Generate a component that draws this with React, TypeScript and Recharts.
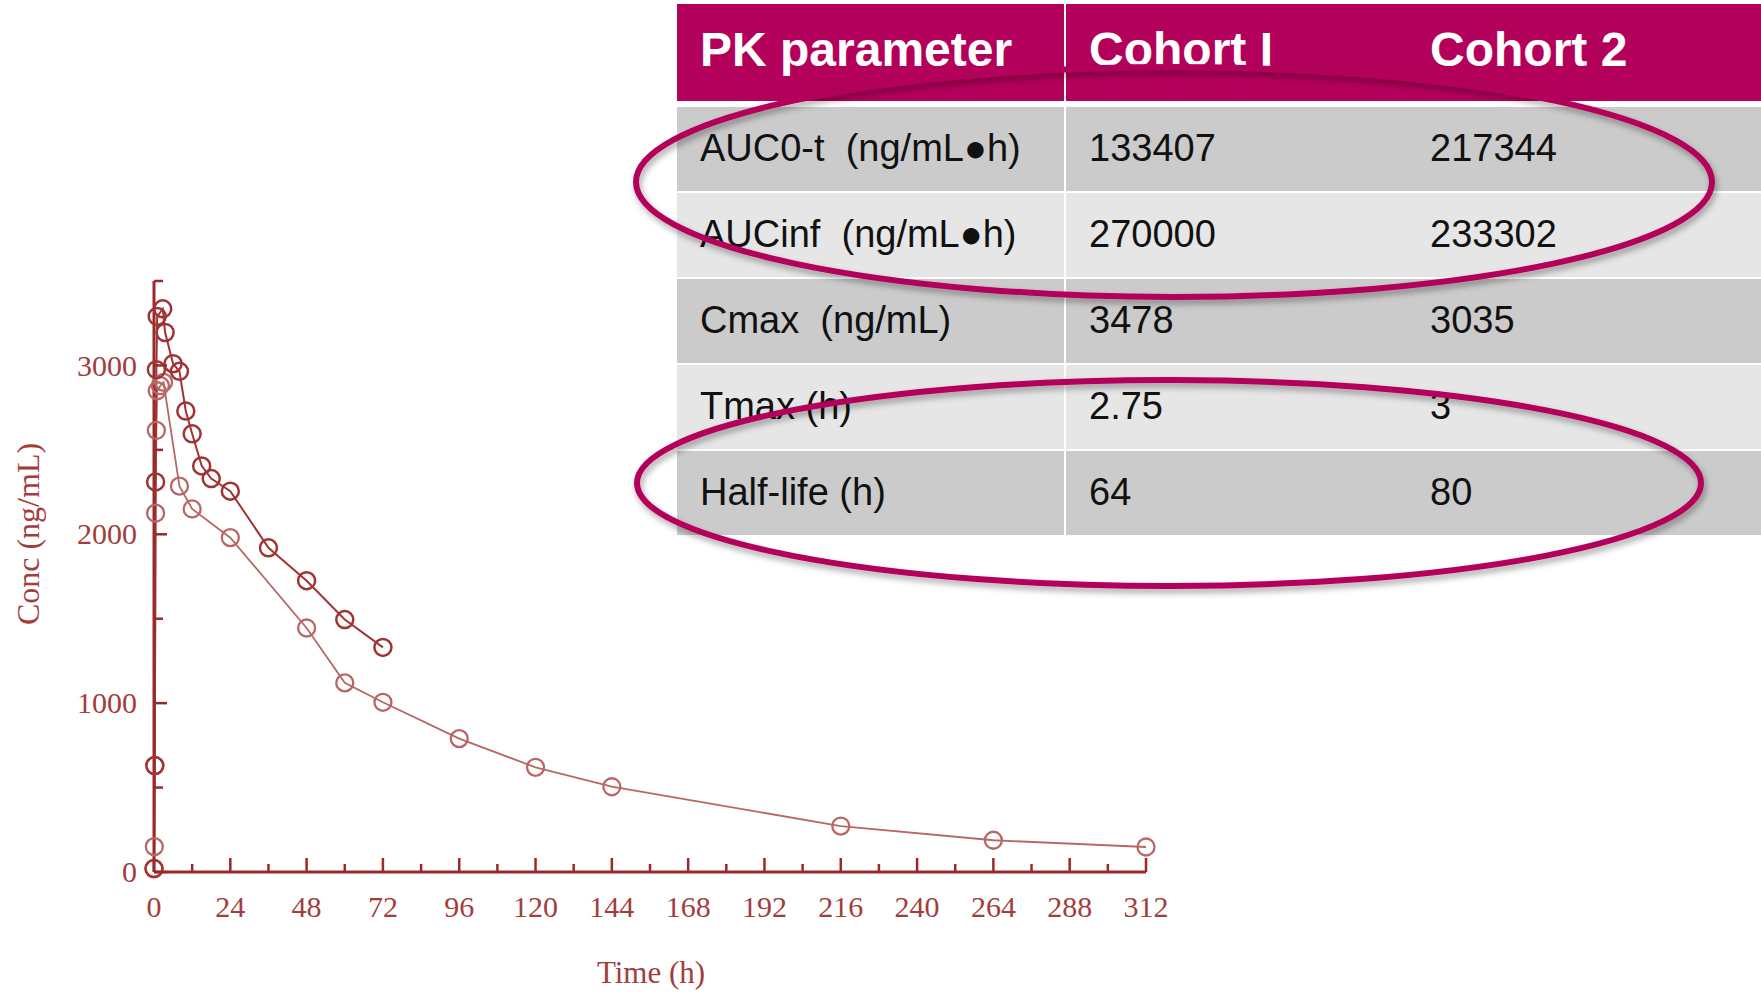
import { LineChart, Line, XAxis, YAxis } from 'recharts'

// concentration-time profiles
const cohort1Hours = [0, 0.25, 0.5, 0.75, 1, 2.75, 3.5, 6, 8, 10, 12, 15, 18, 24, 36, 48, 60, 72]
const cohort1Conc = [20, 630, 2310, 2975, 3290, 3335, 3195, 3010, 2965, 2730, 2595, 2405, 2330, 2255, 1920, 1725, 1495, 1330]

const cohort2Hours = [0, 0.1, 0.25, 0.5, 0.75, 1, 2, 3, 8, 12, 24, 48, 60, 72, 96, 120, 144, 216, 264, 312]
const cohort2Conc = [20, 150, 630, 2125, 2615, 2850, 2880, 2900, 2285, 2150, 1980, 1445, 1120, 1005, 790, 620, 505, 272, 188, 148]

const hourTicks = [0, 12, 24, 36, 48, 60, 72, 84, 96, 108, 120, 132, 144, 156, 168, 180, 192, 204, 216, 228, 240, 252, 264, 276, 288, 300, 312]
const concTicks = [0, 500, 1000, 1500, 2000, 2500, 3000, 3500]

// PK table
const tableHeader = ['PK parameter', 'Cohort I', 'Cohort 2']
const pkParams = ['AUC0-t  (ng/mL\u25CFh)', 'AUCinf  (ng/mL\u25CFh)', 'Cmax  (ng/mL)', 'Tmax (h)', 'Half-life (h)']
const cohort1Values = ['133407', '270000', '3478', '2.75', '64']
const cohort2Values = ['217344', '233302', '3035', '3', '80']

const AXIS = '#9a2a2a'
const TEXT = '#a33d3d'
const DARK = '#a03434'
const LIGHT = '#b86666'
const MAGENTA = '#b3005a'
const SERIF = '"Liberation Serif", "Times New Roman", serif'
const SANS = '"Liberation Sans", Arial, sans-serif'

const cohort1 = cohort1Hours.map((t, i) => ({ t, conc: cohort1Conc[i] }))
const cohort2 = cohort2Hours.map((t, i) => ({ t, conc: cohort2Conc[i] }))

function XTick({ x, y, payload }: any) {
  const major = payload.value % 24 === 0
  return (
    <g>
      <line x1={x} x2={x} y1={y} y2={y - (major ? 14 : 8)} stroke={AXIS} strokeWidth={2.5} />
      {major && (
        <text x={x} y={y + 45} textAnchor="middle" fontFamily={SERIF} fontSize={30} fill={TEXT}>
          {payload.value}
        </text>
      )}
    </g>
  )
}

function YTick({ x, y, payload }: any) {
  const major = payload.value % 1000 === 0
  return (
    <g>
      <line x1={x} x2={x + (major ? 13 : 9)} y1={y} y2={y} stroke={AXIS} strokeWidth={2.5} />
      {major && (
        <text x={x - 17} y={y} dy="0.34em" textAnchor="end" fontFamily={SERIF} fontSize={30} fill={TEXT}>
          {payload.value}
        </text>
      )}
    </g>
  )
}

const ring = (color: string, w: number) => (props: any) => (
  <circle key={props.index} cx={props.cx} cy={props.cy} r={8.5} fill="none" stroke={color} strokeWidth={w} />
)

const rowTops = [107, 193, 279, 365, 451]

export default function App() {
  return (
    <div style={{ position: 'absolute', left: 0, top: 0, width: 1761, height: 992, background: '#fff', overflow: 'hidden' }}>
      <div style={{ position: 'absolute', left: 0, top: 0 }}>
        <LineChart width={1761} height={992} margin={{ top: 281, right: 615, bottom: 0, left: 0 }}>
          <XAxis
            dataKey="t"
            type="number"
            domain={[0, 312]}
            ticks={hourTicks}
            interval={0}
            height={120}
            tickSize={0}
            tickMargin={0}
            tickLine={false}
            axisLine={{ stroke: AXIS, strokeWidth: 3 }}
            tick={<XTick />}
            label={{
              content: () => (
                <text x={651} y={972} dy="0.34em" textAnchor="middle" fontFamily={SERIF} fontSize={31} fill={TEXT}>
                  Time (h)
                </text>
              ),
            }}
          />
          <YAxis
            type="number"
            domain={[0, 3500]}
            ticks={concTicks}
            interval={0}
            width={154}
            tickSize={0}
            tickMargin={0}
            tickLine={false}
            axisLine={{ stroke: AXIS, strokeWidth: 3 }}
            tick={<YTick />}
            label={{
              content: () => (
                <text
                  x={28}
                  y={534}
                  dy="0.34em"
                  textAnchor="middle"
                  transform="rotate(-90 28 534)"
                  fontFamily={SERIF}
                  fontSize={32}
                  fill={TEXT}
                >
                  Conc (ng/mL)
                </text>
              ),
            }}
          />
          <Line
            data={cohort2}
            dataKey="conc"
            type="linear"
            stroke={LIGHT}
            strokeWidth={1.8}
            dot={ring(LIGHT, 2.3)}
            activeDot={false}
            isAnimationActive={false}
          />
          <Line
            data={cohort1}
            dataKey="conc"
            type="linear"
            stroke={DARK}
            strokeWidth={2}
            dot={ring(DARK, 2.5)}
            activeDot={false}
            isAnimationActive={false}
          />
        </LineChart>
      </div>

      {/* PK parameter table */}
      <div
        style={{
          position: 'absolute', left: 677, top: 4, width: 1084, height: 97, background: MAGENTA,
          fontFamily: SANS, fontWeight: 'bold', fontSize: 48, color: '#fff',
        }}
      >
        <div style={{ position: 'absolute', left: 387, top: 0, width: 2, height: 97, background: '#fff' }} />
        {tableHeader.map((h, i) => (
          <div key={h} style={{ position: 'absolute', left: [23, 412, 753][i], top: -3, height: 97, display: 'flex', alignItems: 'center', whiteSpace: 'pre' }}>
            {h}
          </div>
        ))}
      </div>
      {pkParams.map((p, r) => (
        <div
          key={p}
          style={{
            position: 'absolute', left: 677, top: rowTops[r], width: 1084, height: 84,
            background: r % 2 === 0 ? '#cbcbcb' : '#e6e6e6', fontFamily: SANS, fontSize: 38, color: '#111',
          }}
        >
          <div style={{ position: 'absolute', left: 387, top: 0, width: 2, height: 84, background: '#fff' }} />
          {[p, cohort1Values[r], cohort2Values[r]].map((v, i) => (
            <div key={i} style={{ position: 'absolute', left: [23, 412, 753][i], top: -1, height: 84, display: 'flex', alignItems: 'center', whiteSpace: 'pre' }}>
              {v}
            </div>
          ))}
        </div>
      ))}

      {/* highlight ellipses */}
      <svg width={1761} height={992} style={{ position: 'absolute', left: 0, top: 0, pointerEvents: 'none' }}>
        <defs>
          <filter id="shadow" x="-10%" y="-20%" width="120%" height="140%">
            <feDropShadow dx={2} dy={4} stdDeviation={3} floodColor="#000" floodOpacity={0.35} />
          </filter>
        </defs>
        <ellipse cx={1174} cy={182} rx={538} ry={115} fill="none" stroke={MAGENTA} strokeWidth={6} filter="url(#shadow)" />
        <ellipse cx={1169} cy={483} rx={532} ry={103} fill="none" stroke={MAGENTA} strokeWidth={6} filter="url(#shadow)" />
      </svg>
    </div>
  )
}
